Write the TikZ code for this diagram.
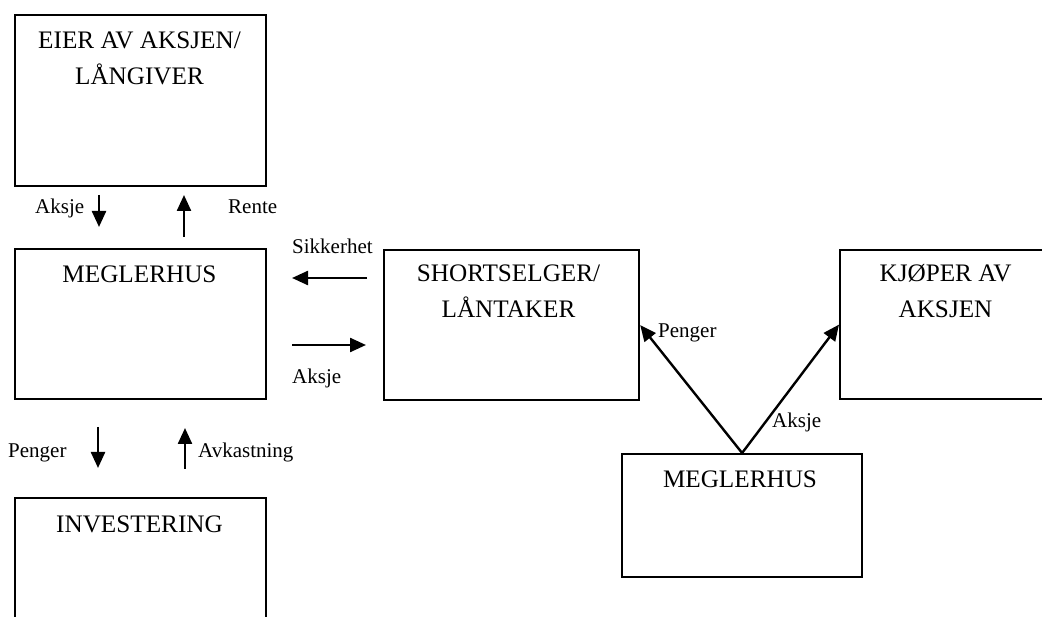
\documentclass[tikz,border=0pt]{standalone}
\usepackage{fontspec}
\setmainfont{Liberation Serif}
\usetikzlibrary{arrows.meta}
\begin{document}
\begin{tikzpicture}[x=1pt,y=-1pt,
  box/.style={draw, line width=2.2pt, rectangle, anchor=north west, inner sep=0pt},
  boxtext/.style={anchor=base, inner sep=0pt, align=center, font=\fontsize{25.2}{36}\selectfont},
  lbl/.style={anchor=base west, inner sep=0pt, font=\fontsize{21}{25}\selectfont},
  arr/.style={line width=2.4pt, -{Triangle[length=16pt,width=14pt]}}]
\useasboundingbox (0,0) rectangle (1042,617);
\clip (0,0) rectangle (1042,617);
% boxes
\node[box, minimum width=251pt, minimum height=171pt] (eier) at (14,14) {};
\node[box, minimum width=251pt, minimum height=150pt] (megl) at (14,248) {};
\node[box, minimum width=251pt, minimum height=160pt] (inv) at (14,497) {};
\node[box, minimum width=255pt, minimum height=150pt] (short) at (383,249) {};
\node[box, minimum width=240pt, minimum height=149pt] (kjop) at (839,249) {};
\node[box, minimum width=240pt, minimum height=123pt] (megr) at (621,453) {};
% box texts (anchor base = baseline of last line)
\node[boxtext] (teier) at (139.5,85) {EIER AV AKSJEN/\\LÅNGIVER};
\node[boxtext] (tmegl) at (139.5,283) {MEGLERHUS};
\node[boxtext] (tinv) at (139.5,532) {INVESTERING};
\node[boxtext] (tshort) at (508.5,318) {SHORTSELGER/\\LÅNTAKER};
\node[boxtext] (tkjop) at (945.5,318) {KJØPER AV\\AKSJEN};
\node[boxtext] (tmegr) at (740,487) {MEGLERHUS};
% free arrow end points
\coordinate (a1s) at (99,195);  \coordinate (a1e) at (99,227);
\coordinate (a2s) at (184,237); \coordinate (a2e) at (184,195);
\coordinate (a3s) at (367,278); \coordinate (a3e) at (292,278);
\coordinate (a4s) at (292,345); \coordinate (a4e) at (366,345);
\coordinate (a5s) at (98,427);  \coordinate (a5e) at (98,468);
\coordinate (a6s) at (185,469); \coordinate (a6e) at (185,428);
\draw[arr] (a1s) -- (a1e);
\draw[arr] (a2s) -- (a2e);
\draw[arr] (a3s) -- (a3e);
\draw[arr] (a4s) -- (a4e);
\draw[arr] (a5s) -- (a5e);
\draw[arr] (a6s) -- (a6e);
\draw[arr] (megr.north) -- (short.east);
\draw[arr] (megr.north) -- (kjop.west);
% labels
\node[lbl] (l1) at (35,214) {Aksje};
\node[lbl] (l2) at (228,214) {Rente};
\node[lbl] (l3) at (292,254) {Sikkerhet};
\node[lbl] (l4) at (292,384) {Aksje};
\node[lbl] (l5) at (8,458) {Penger};
\node[lbl] (l6) at (198,458) {Avkastning};
\node[lbl] (l7) at (658,338) {Penger};
\node[lbl] (l8) at (772,428) {Aksje};
\end{tikzpicture}
\end{document}
